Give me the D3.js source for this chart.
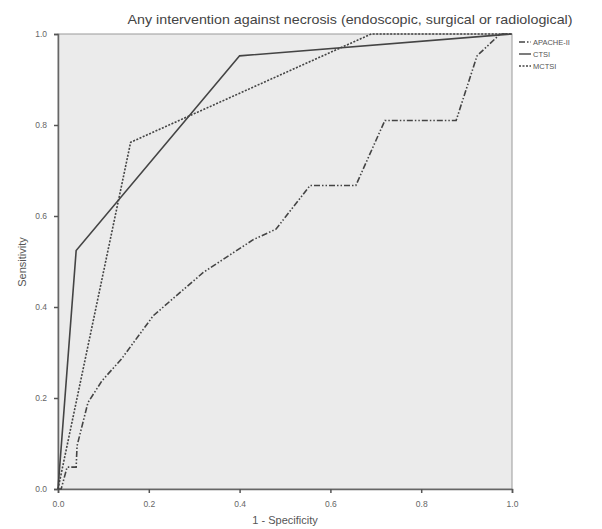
<!DOCTYPE html>
<html>
<head>
<meta charset="utf-8">
<script src="https://cdn.jsdelivr.net/npm/d3@7"></script>
<style>
  body { margin: 0; background: #fff; }
  svg { display: block; font-family: "Liberation Sans", Arial, sans-serif; }
</style>
</head>
<body>
<svg id="chart" width="602" height="529"></svg>
<script>
// ROC curves (x = 1 - specificity, y = sensitivity)
const apache = [[0,0],[0.007,0],[0.02,0.048],[0.04,0.048],[0.042,0.095],[0.066,0.19],[0.097,0.238],
  [0.14,0.286],[0.21,0.381],[0.32,0.476],[0.43,0.548],[0.48,0.571],[0.555,0.667],[0.656,0.667],
  [0.72,0.81],[0.877,0.81],[0.923,0.952],[0.974,1],[1,1]];
const ctsi = [[0,0],[0.04,0.524],[0.40,0.952],[1,1]];
const mctsi = [[0,0],[0.16,0.762],[0.69,1],[1,1]];
const ticks = [0, 0.2, 0.4, 0.6, 0.8, 1.0];
const series = [
  { name: "APACHE-II", data: apache, dash: "6,2,1.5,2,1.5,2" },
  { name: "CTSI", data: ctsi, dash: null },
  { name: "MCTSI", data: mctsi, dash: "2,1.5" }
];

const svg = d3.select("#chart");
const x = d3.scaleLinear().domain([0, 1]).range([58, 512]);
const y = d3.scaleLinear().domain([0, 1]).range([489, 34]);

// plot area
svg.append("rect").attr("x", x(0)).attr("y", y(1))
  .attr("width", x(1) - x(0)).attr("height", y(0) - y(1))
  .attr("fill", "#ebebeb").attr("stroke", "#9a9a9a").attr("stroke-width", 1);

// axes
const fmt = d3.format(".1f");
const xa = svg.append("g").attr("transform", `translate(0,${y(0)})`)
  .call(d3.axisBottom(x).tickValues(ticks).tickFormat(fmt).tickSize(4).tickPadding(8));
const ya = svg.append("g").attr("transform", `translate(${x(0)},0)`)
  .call(d3.axisLeft(y).tickValues(ticks).tickFormat(fmt).tickSize(4).tickPadding(7));
[xa, ya].forEach(a => {
  a.select(".domain").attr("stroke", "#666").attr("stroke-width", 1.5);
  a.selectAll(".tick line").attr("stroke", "#555").attr("stroke-width", 1.5);
  a.selectAll(".tick text").attr("fill", "#666").style("font-size", "8.5px");
});

// curves
const line = d3.line().x(d => x(d[0])).y(d => y(d[1]));
series.forEach(s => {
  svg.append("path").datum(s.data)
    .attr("fill", "none").attr("stroke", "#444").attr("stroke-width", 1.6)
    .attr("stroke-dasharray", s.dash).attr("d", line);
});

// legend
const lg = svg.append("g").attr("transform", "translate(519,42)");
series.forEach((s, i) => {
  lg.append("line").attr("x1", 0).attr("x2", 12).attr("y1", i * 12).attr("y2", i * 12)
    .attr("stroke", "#444").attr("stroke-width", 1.4).attr("stroke-dasharray", s.dash);
  lg.append("text").attr("x", 14).attr("y", i * 12).attr("dy", "0.35em")
    .attr("fill", "#555").style("font-size", "7.5px").text(s.name);
});

// titles
svg.append("text").attr("x", 350).attr("y", 24).attr("text-anchor", "middle")
  .attr("fill", "#444").style("font-size", "13.5px")
  .attr("textLength", 445).attr("lengthAdjust", "spacingAndGlyphs")
  .text("Any intervention against necrosis (endoscopic, surgical or radiological)");
svg.append("text").attr("x", 285).attr("y", 524).attr("text-anchor", "middle")
  .attr("fill", "#555").style("font-size", "11px").text("1 - Specificity");
svg.append("text").attr("transform", "translate(26,262) rotate(-90)").attr("text-anchor", "middle")
  .attr("fill", "#555").style("font-size", "11px").text("Sensitivity");
</script>
</body>
</html>
